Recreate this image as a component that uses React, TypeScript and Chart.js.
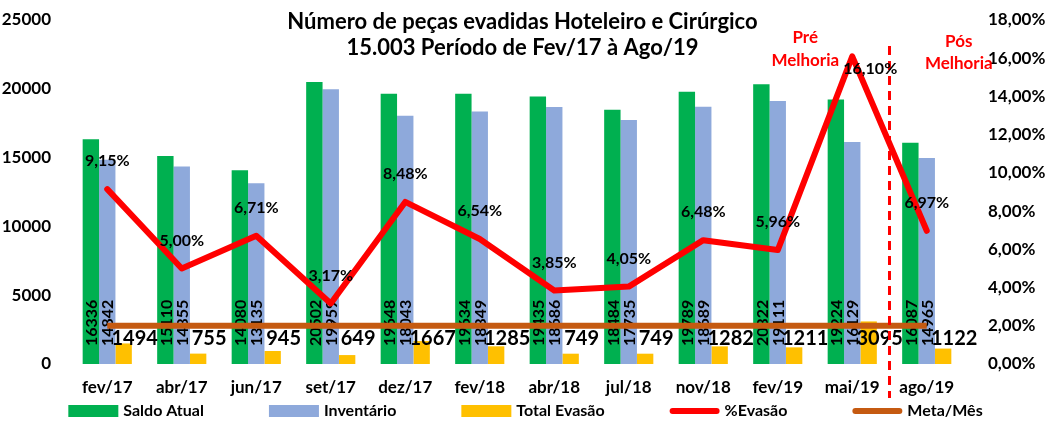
import React, { useEffect, useRef } from "react";
import { Chart, registerables } from "chart.js";

Chart.register(...registerables);

const categories = ["fev/17", "abr/17", "jun/17", "set/17", "dez/17", "fev/18", "abr/18", "jul/18", "nov/18", "fev/19", "mai/19", "ago/19"];
const saldoAtual = [16336, 15110, 14080, 20502, 19648, 19634, 19435, 18484, 19789, 20322, 19224, 16087];
const inventario = [14842, 14355, 13135, 19959, 18043, 18349, 18686, 17735, 18689, 19111, 16129, 14965];
const totalEvasao = [1494, 755, 945, 649, 1667, 1285, 749, 749, 1282, 1211, 3095, 1122];
const pctEvasao = [9.15, 5.0, 6.71, 3.17, 8.48, 6.54, 3.85, 4.05, 6.48, 5.96, 16.1, 6.97];
const metaMes = [2, 2, 2, 2, 2, 2, 2, 2, 2, 2, 2, 2];
const titleLines = ["Número de peças evadidas Hoteleiro e Cirúrgico", "15.003 Período de Fev/17 à Ago/19"];
const preLabel = ["Pré", "Melhoria"];
const posLabel = ["Pós", "Melhoria"];

const FONT = "Lato, 'Open Sans', sans-serif";
const fmtPct = (v: number) => v.toFixed(2).replace(".", ",") + "%";

const barLabelPlugin = {
  id: "barLabels",
  afterDatasetDraw(chart: any, args: any) {
    if (args.index !== 0) return;
    const ctx = chart.ctx;
    const area = chart.chartArea;
    ctx.save();
    ctx.fillStyle = "#000";
    ctx.font = `bold 16px ${FONT}`;
    [0, 1].forEach((di) => {
      const meta = chart.getDatasetMeta(di);
      meta.data.forEach((bar: any, i: number) => {
        ctx.save();
        ctx.translate(bar.x + 1, area.bottom - 18);
        ctx.rotate(-Math.PI / 2);
        ctx.textAlign = "left";
        ctx.textBaseline = "middle";
        ctx.fillText(String(chart.data.datasets[di].data[i]), 0, 0);
        ctx.restore();
      });
    });
    ctx.font = `bold 20px ${FONT}`;
    ctx.textAlign = "center";
    ctx.textBaseline = "middle";
    const meta2 = chart.getDatasetMeta(2);
    meta2.data.forEach((bar: any, i: number) => {
      ctx.fillText(String(chart.data.datasets[2].data[i]), bar.x + 11, area.bottom - 25);
    });
    ctx.restore();
  },
};

const overlayPlugin = {
  id: "overlay",
  afterDatasetsDraw(chart: any) {
    const ctx = chart.ctx;
    const xs = chart.scales.x;
    ctx.save();
    // dashed separator
    const xm = (xs.getPixelForValue(10) + xs.getPixelForValue(11)) / 2;
    ctx.strokeStyle = "#FF0000";
    ctx.lineWidth = 3;
    ctx.setLineDash([9, 6]);
    ctx.beginPath();
    ctx.moveTo(xm, 46);
    ctx.lineTo(xm, 398);
    ctx.stroke();
    ctx.setLineDash([]);

    // Pré / Pós Melhoria
    ctx.fillStyle = "#FF0000";
    ctx.font = `bold 17px ${FONT}`;
    ctx.textAlign = "center";
    ctx.textBaseline = "middle";
    const xPre = xs.getPixelForValue(10) - 47;
    ctx.fillText(preLabel[0], xPre, 38);
    ctx.fillText(preLabel[1], xPre, 61);
    const xPos = xs.getPixelForValue(11) + 32;
    ctx.fillText(posLabel[0], xPos, 42);
    ctx.fillText(posLabel[1], xPos, 64);

    // percent labels
    ctx.fillStyle = "#000";
    ctx.font = `bold 16px ${FONT}`;
    const meta = chart.getDatasetMeta(3);
    meta.data.forEach((pt: any, i: number) => {
      const v = chart.data.datasets[3].data[i];
      let dx = 0, dy = -28;
      if (v > 15) { dx = 18; dy = 13; }
      ctx.fillText(fmtPct(v), pt.x + dx, pt.y + dy);
    });
    ctx.restore();
  },
  afterDraw(chart: any) {
    const ctx = chart.ctx;
    ctx.save();
    // title
    ctx.fillStyle = "#000";
    ctx.font = `bold 22px ${FONT}`;
    ctx.textAlign = "center";
    ctx.textBaseline = "middle";
    ctx.fillText(titleLines[0], chart.width / 2, 22);
    ctx.fillText(titleLines[1], chart.width / 2, 48);

    // legend
    ctx.font = `bold 16px ${FONT}`;
    const items = chart.data.datasets.map((ds: any) => ({
      label: ds.label,
      color: ds.type === "line" ? ds.borderColor : ds.backgroundColor,
      line: ds.type === "line",
    }));
    const boxW = 50, gap = 5, pad = 65;
    const widths = items.map((it: any) => boxW + gap + ctx.measureText(it.label).width);
    const total = widths.reduce((a: number, b: number) => a + b, 0) + pad * (items.length - 1);
    let x = chart.width / 2 + 3 - total / 2;
    const y = 411;
    ctx.textAlign = "left";
    items.forEach((it: any, i: number) => {
      if (it.line) {
        ctx.strokeStyle = it.color;
        ctx.lineWidth = 6;
        ctx.lineCap = "round";
        ctx.beginPath();
        ctx.moveTo(x + 3, y);
        ctx.lineTo(x + boxW - 3, y);
        ctx.stroke();
      } else {
        ctx.fillStyle = it.color;
        ctx.fillRect(x, y - 6, boxW, 12);
      }
      ctx.fillStyle = "#000";
      ctx.fillText(it.label, x + boxW + gap, y);
      x += widths[i] + pad;
    });
    ctx.restore();
  },
};

export default function App() {
  const ref = useRef<HTMLCanvasElement | null>(null);
  useEffect(() => {
    document.body.style.margin = "0";
    const canvas = ref.current;
    if (!canvas) return;
    const tickFont = { family: FONT, size: 17, weight: "bold" as const };
    const chart = new Chart(canvas, {
      type: "bar",
      data: {
        labels: categories,
        datasets: [
          { type: "bar", label: "Saldo Atual", data: saldoAtual, backgroundColor: "#00B050", yAxisID: "y", order: 1 },
          { type: "bar", label: "Inventário", data: inventario, backgroundColor: "#8EA9DB", yAxisID: "y", order: 1 },
          { type: "bar", label: "Total Evasão", data: totalEvasao, backgroundColor: "#FFC000", yAxisID: "y", order: 1 },
          {
            type: "line", label: "%Evasão", data: pctEvasao, borderColor: "#FF0000", backgroundColor: "#FF0000",
            borderWidth: 6, pointRadius: 0, tension: 0, yAxisID: "y1", order: 0, borderJoinStyle: "round", borderCapStyle: "round",
          },
          {
            type: "line", label: "Meta/Mês", data: metaMes, borderColor: "#C55A11", backgroundColor: "#C55A11",
            borderWidth: 6, pointRadius: 0, tension: 0, yAxisID: "y1", order: 0,
          },
        ] as any,
      },
      options: {
        responsive: false,
        animation: false,
        layout: { padding: { top: 20, left: 0, right: 0, bottom: 0 } },
        datasets: { bar: { categoryPercentage: 0.66, barPercentage: 1.0 } } as any,
        plugins: {
          legend: { display: false },
          title: { display: false },
          tooltip: { enabled: false },
        },
        scales: {
          x: {
            grid: { display: false, drawTicks: false },
            border: { display: false },
            ticks: { color: "#000", font: tickFont, padding: 13, maxRotation: 0, autoSkip: false },
            afterFit: (s: any) => { s.height = 60; },
          },
          y: {
            position: "left",
            min: 0, max: 25000,
            grid: { display: false, drawTicks: false },
            border: { display: false },
            ticks: { stepSize: 5000, color: "#000", font: tickFont, padding: 19, callback: (v: any) => String(v) },
            afterFit: (s: any) => { s.width = 70; s.paddingTop = 0; s.paddingBottom = 0; },
          },
          y1: {
            position: "right",
            min: 0, max: 18,
            grid: { display: false, drawTicks: false },
            border: { display: false },
            ticks: { stepSize: 2, color: "#000", font: tickFont, padding: 24, callback: (v: any) => fmtPct(Number(v)) },
            afterFit: (s: any) => { s.width = 81; s.paddingTop = 0; s.paddingBottom = 0; },
          },
        },
      },
      plugins: [barLabelPlugin, overlayPlugin],
    });
    return () => chart.destroy();
  }, []);
  return (
    <div style={{ width: 1045, height: 424 }}>
      <canvas ref={ref} width={1045} height={424} style={{ display: "block" }} />
    </div>
  );
}
